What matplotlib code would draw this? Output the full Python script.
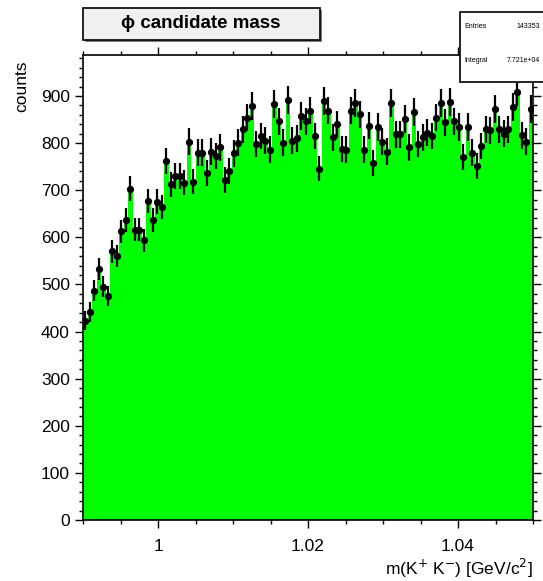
import numpy as np
import matplotlib.pyplot as plt
from matplotlib.patches import Rectangle
from matplotlib.ticker import MultipleLocator

plt.rcParams['font.family'] = ['Liberation Sans', 'DejaVu Sans']

# histogram range and bin contents (100 bins from 0.99 to 1.05)
x_min = 0.99
x_max = 1.05
counts = [423, 441, 487, 532, 495, 475, 570, 561, 613, 637, 703, 616, 616, 594, 677, 637,
          676, 665, 762, 713, 730, 730, 716, 803, 718, 780, 780, 737, 782, 773, 791, 722,
          741, 778, 801, 829, 854, 879, 798, 815, 805, 786, 883, 846, 801, 892, 805, 810,
          858, 846, 869, 815, 746, 890, 869, 812, 840, 788, 786, 869, 885, 861, 786, 837,
          757, 834, 803, 782, 885, 819, 819, 851, 791, 866, 798, 812, 822, 815, 854, 885,
          844, 888, 846, 834, 770, 834, 780, 752, 794, 829, 827, 872, 829, 820, 829, 876,
          909, 817, 803, 872]
entries_label = '143353'
integral_label = '7.721e+04'
x_ticks = [1.0, 1.02, 1.04]
x_tick_labels = ['1', '1.02', '1.04']
y_ticks = [0, 100, 200, 300, 400, 500, 600, 700, 800, 900]

counts = np.array(counts, dtype=float)
edges = np.linspace(x_min, x_max, len(counts) + 1)
centers = 0.5 * (edges[:-1] + edges[1:])
bw = edges[1] - edges[0]
errors = np.sqrt(counts)

W, H = 543, 581
fig = plt.figure(figsize=(W / 100, H / 100), dpi=100)
ax = fig.add_axes([83 / W, 1 - 520 / H, 450 / W, 465 / H])

ax.stairs(counts, edges, fill=True, color='#00ff00', linewidth=0)
ax.errorbar(centers, counts, yerr=errors, xerr=bw / 2, fmt='o', color='black',
            markersize=4.2, elinewidth=1.6, capsize=0)

ax.set_xlim(x_min, x_max)
ax.set_ylim(0, 987)
ax.set_xticks(x_ticks)
ax.set_xticklabels(x_tick_labels)
ax.set_yticks(y_ticks)
ax.xaxis.set_minor_locator(MultipleLocator(0.005))
ax.yaxis.set_minor_locator(MultipleLocator(20))
ax.tick_params(which='both', direction='out', top=True, right=True,
               labelsize=12.5, width=1)
ax.tick_params(which='major', length=6)
ax.tick_params(which='minor', length=3)
ax.tick_params(axis='x', pad=8)
for s in ax.spines.values():
    s.set_linewidth(1.2)

fig.text(533 / W, 1 - 568 / H, r'm(K$^{+}$ K$^{-}$) [GeV/c$^{2}$]',
         ha='right', va='center', fontsize=12.5)
fig.text(22 / W, 1 - 60 / H, 'counts', rotation=90, ha='center', va='top',
         fontsize=12.5)

# title box
fig.patches.append(Rectangle((85 / W, 1 - 42 / H), 237 / W, 32 / H,
                             transform=fig.transFigure, facecolor='#7f7f7f',
                             edgecolor='none', zorder=1))
fig.patches.append(Rectangle((83 / W, 1 - 40 / H), 237 / W, 32 / H,
                             transform=fig.transFigure, facecolor='#f0f0f0',
                             edgecolor='black', linewidth=1.2, zorder=2))
fig.text(201 / W, 1 - 24 / H, '\u03d5 candidate mass', ha='center', va='center',
         fontsize=13.5, fontweight='bold', zorder=3)

# stats box
fig.patches.append(Rectangle((460 / W, 1 - 82 / H), 100 / W, 70 / H,
                             transform=fig.transFigure, facecolor='white',
                             edgecolor='black', linewidth=1.2, zorder=2))
fig.text(464 / W, 1 - 27 / H, 'Entries', fontsize=5, va='center')
fig.text(540 / W, 1 - 27 / H, entries_label, fontsize=5, va='center', ha='right')
fig.text(464 / W, 1 - 61 / H, 'Integral', fontsize=5, va='center')
fig.text(540 / W, 1 - 61 / H, integral_label, fontsize=5, va='center', ha='right')

fig.savefig('out.png', dpi=100)
